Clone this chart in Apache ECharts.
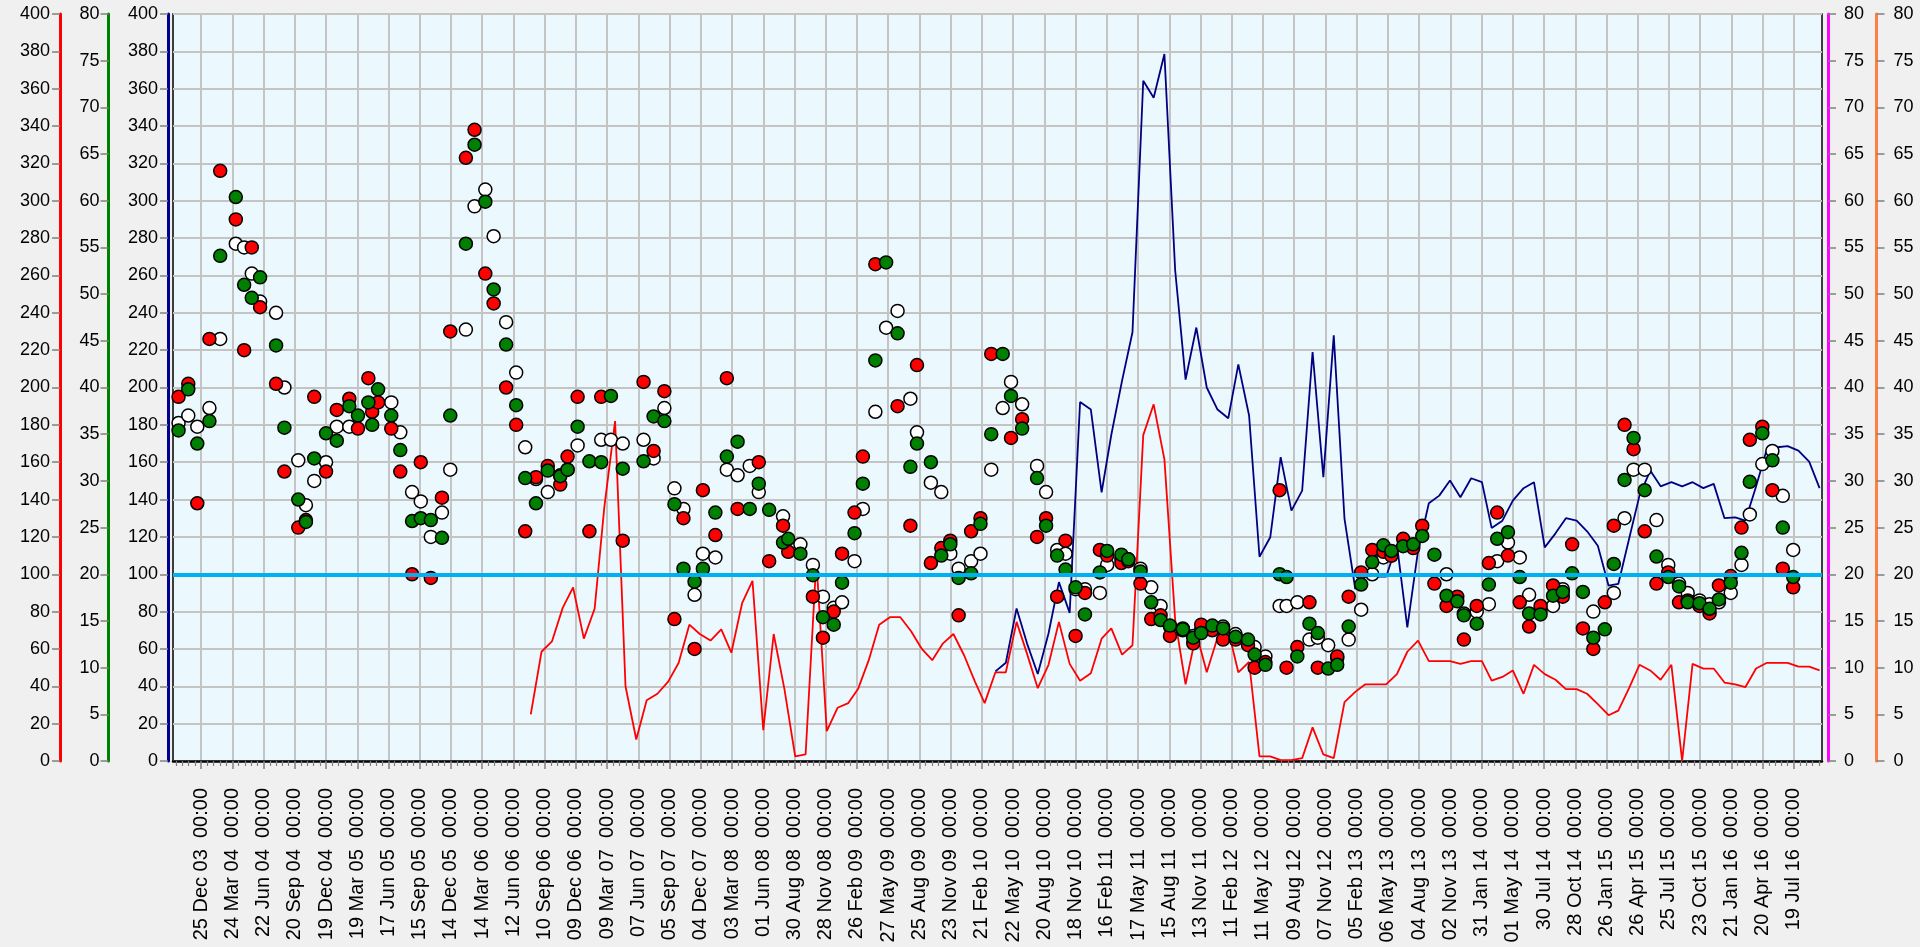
<!DOCTYPE html>
<html>
<head>
<meta charset="utf-8">
<title>chart</title>
<script src="https://cdn.jsdelivr.net/npm/echarts@6/dist/echarts.min.js"></script>
<style>
  html, body { margin: 0; padding: 0; background: #f0f0f0; }
  #chart { width: 1920px; height: 947px; }
</style>
</head>
<body>
<div id="chart"></div>
<script>
// labelled ticks on the time axis (one every 90 days)
const tickLabels = [
  '25 Dec 03', '24 Mar 04', '22 Jun 04', '20 Sep 04', '19 Dec 04', '19 Mar 05', '17 Jun 05', '15 Sep 05',
  '14 Dec 05', '14 Mar 06', '12 Jun 06', '10 Sep 06', '09 Dec 06', '09 Mar 07', '07 Jun 07', '05 Sep 07',
  '04 Dec 07', '03 Mar 08', '01 Jun 08', '30 Aug 08', '28 Nov 08', '26 Feb 09', '27 May 09', '25 Aug 09',
  '23 Nov 09', '21 Feb 10', '22 May 10', '20 Aug 10', '18 Nov 10', '16 Feb 11', '17 May 11', '15 Aug 11',
  '13 Nov 11', '11 Feb 12', '11 May 12', '09 Aug 12', '07 Nov 12', '05 Feb 13', '06 May 13', '04 Aug 13',
  '02 Nov 13', '31 Jan 14', '01 May 14', '30 Jul 14', '28 Oct 14', '26 Jan 15', '26 Apr 15', '25 Jul 15',
  '23 Oct 15', '21 Jan 16', '20 Apr 16', '19 Jul 16'
]
const axisStart = '2003-10-05'
const axisEnd = '2016-10-08'

// sample dates of the circles
const dotDates = [
  '2003-10-21', '2003-11-18', '2003-12-14', '2004-01-18', '2004-02-18', '2004-04-03', '2004-04-27', '2004-05-19', '2004-06-12', '2004-07-28',
  '2004-08-21', '2004-09-30', '2004-10-22', '2004-11-15', '2004-12-19', '2005-01-19', '2005-02-24', '2005-03-21', '2005-04-20', '2005-05-01',
  '2005-05-18', '2005-06-25', '2005-07-21', '2005-08-24', '2005-09-18', '2005-10-17', '2005-11-18', '2005-12-12', '2006-01-26', '2006-02-20',
  '2006-03-23', '2006-04-16', '2006-05-22', '2006-06-20', '2006-07-16', '2006-08-16', '2006-09-19', '2006-10-25', '2006-11-15', '2006-12-14',
  '2007-01-17', '2007-02-20', '2007-03-20', '2007-04-23', '2007-06-22', '2007-07-21', '2007-08-21', '2007-09-19', '2007-10-15', '2007-11-16',
  '2007-12-10', '2008-01-15', '2008-02-17', '2008-03-19', '2008-04-23', '2008-05-19', '2008-06-18', '2008-07-28', '2008-08-12', '2008-09-16',
  '2008-10-22', '2008-11-20', '2008-12-21', '2009-01-14', '2009-02-19', '2009-03-15', '2009-04-20', '2009-05-21', '2009-06-23', '2009-07-30',
  '2009-08-18', '2009-09-27', '2009-10-27', '2009-11-22', '2009-12-16', '2010-01-21', '2010-02-17', '2010-03-20', '2010-04-22', '2010-05-16',
  '2010-06-17', '2010-07-30', '2010-08-25', '2010-09-26', '2010-10-20', '2010-11-18', '2010-12-15', '2011-01-27', '2011-02-17', '2011-03-30',
  '2011-04-19', '2011-05-24', '2011-06-24', '2011-07-21', '2011-08-17', '2011-09-23', '2011-10-23', '2011-11-15', '2011-12-17', '2012-01-17',
  '2012-02-22', '2012-03-29', '2012-04-17', '2012-05-18', '2012-06-28', '2012-07-18', '2012-08-18', '2012-09-22', '2012-10-16', '2012-11-15',
  '2012-12-11', '2013-01-13', '2013-02-18', '2013-03-22', '2013-04-23', '2013-05-16', '2013-06-19', '2013-07-18', '2013-08-13', '2013-09-17',
  '2013-10-22', '2013-11-22', '2013-12-11', '2014-01-17', '2014-02-21', '2014-03-17', '2014-04-17', '2014-05-21', '2014-06-17', '2014-07-20',
  '2014-08-25', '2014-09-22', '2014-10-19', '2014-11-19', '2014-12-19', '2015-01-21', '2015-02-16', '2015-03-19', '2015-04-14', '2015-05-16',
  '2015-06-19', '2015-07-23', '2015-08-23', '2015-09-17', '2015-10-21', '2015-11-19', '2015-12-16', '2016-01-19', '2016-02-19', '2016-03-14',
  '2016-04-19', '2016-05-18', '2016-06-17', '2016-07-17'
]
// red circles, red axis (0-400)
const redDots = [
  195, 202, 138, 226, 316, 290, 220, 275, 243, 202,
  155, 125, 129, 195, 155, 188, 194, 178, 205, 187,
  192, 178, 155, 100, 160, 98, 141, 230, 323, 338,
  261, 245, 200, 180, 123, 152, 158, 148, 163, 195,
  123, 195, null, 118, 203, 166, 198, 76, 130, 60,
  145, 121, 205, 135, null, 160, 107, 126, 112, null,
  88, 66, 80, 111, 133, 163, 266, null, 190, 126,
  212, 106, 114, 118, 78, 123, 130, 218, null, 173,
  183, 120, 130, 88, 118, 67, 90, 113, 110, 106,
  107, 95, 76, 78, 67, 70, 63, 73, 70, 65,
  65, 62, 50, 53, 145, 50, 61, 85, 50, null,
  56, 88, 101, 113, 112, 110, 119, 114, 126, 95,
  83, 88, 65, 83, 106, 133, 110, 85, 72, 83,
  94, 88, 116, 71, 60, 85, 126, 180, 167, 123,
  95, 101, 85, 86, 83, 79, 94, 99, 125, 172,
  179, 145, 103, 93
]
// green circles, green axis (0-80)
const greenDots = [
  35.4, 39.8, 34, 36.4, 54.1, 60.4, 51, 49.6, 51.8, 44.5,
  35.7, 28, 25.6, 32.4, 35.1, 34.3, 38, 37, 38.4, 36,
  39.8, 37, 33.3, 25.7, 26, 25.8, 23.9, 37, 55.4, 66,
  59.9, 50.5, 44.6, 38.1, 30.3, 27.6, 31.1, 30.5, 31.2, 35.8,
  32.1, 32, 39.1, 31.3, 32.1, 36.9, 36.4, 27.5, 20.6, 19.2,
  20.6, 26.6, 32.6, 34.2, 27, 29.7, 26.9, 23.4, 23.8, 22.2,
  19.9, 15.4, 14.6, 19.1, 24.4, 29.7, 42.9, 53.4, 45.8, 31.5,
  34, 32, 22, 23.2, 19.6, 20.1, 25.4, 35, 43.6, 39.1,
  35.6, 30.3, 25.2, 22, 20.5, 18.6, 15.7, 20.2, 22.5, 22.1,
  21.6, 20.3, 17, 15.1, 14.5, 14.1, 13.2, 13.7, 14.5, 14.2,
  13.3, 13, 11.4, 10.3, 20, 19.7, 11.2, 14.7, 13.7, 9.9,
  10.3, 14.4, 18.9, 21.3, 23.1, 22.5, 23, 23.2, 24.1, 22.1,
  17.7, 17.1, 15.6, 14.7, 18.9, 23.8, 24.5, 19.7, 15.8, 15.7,
  17.7, 18.1, 20.1, 18.1, 13.2, 14.1, 21.1, 30.1, 34.6, 29,
  21.9, 19.7, 18.7, 17, 16.9, 16.3, 17.3, 19.1, 22.3, 29.9,
  35.1, 32.2, 25, 19.7
]
// open circles, blue axis (0-400)
const whiteDots = [
  181, 185, 179, 189, 226, 277, 275, 261, 246, 240,
  200, 161, 137, 150, 160, 179, 179, null, null, null,
  null, 192, 176, 144, 139, 120, 133, 156, 231, 297,
  306, 281, 235, 208, 168, 151, 144, 153, 156, 169,
  null, 172, 172, 170, 172, 162, 189, 146, 135, 89,
  111, 109, 156, 153, 158, 144, null, 131, null, 116,
  105, 88, 82, 85, 107, 135, 187, 232, 241, 194,
  176, 149, 144, 111, 103, 107, 111, 156, 189, 203,
  191, 158, 144, 113, 111, 92, 92, 90, 105, 108,
  108, 103, 93, 83, 72, 71, 67, 70, 72, 72,
  68, null, 61, 56, 83, 83, 85, 65, 66, 62,
  55, 65, 81, 100, 109, 110, null, 115, null, null,
  100, null, 79, 80, 84, 107, 117, 109, 89, 81,
  83, 92, null, null, 80, null, 90, 130, 156, 156,
  129, 105, 95, 90, 86, 84, 85, 90, 105, 132,
  159, 166, 142, 113
]

// red line, monthly from Aug 2006, magenta axis (0-80)
const redLineStart = '2006-08'
const redLine = [
  5.0, 11.7, 12.8, 16.4, 18.6,
  13.1, 16.3, 27.2, 36.4, 8.0, 2.3, 6.5, 7.2, 8.5, 10.5, 14.6, 13.6,
  12.9, 14.1, 11.6, 16.9, 19.3, 3.3, 13.6, 7.7, 0.5, 0.7, 21.5, 3.2,
  5.7, 6.2, 7.7, 10.8, 14.6, 15.4, 15.4, 13.9, 12.0, 10.8, 12.6, 13.6,
  11.3, 8.5, 6.2, 9.5, 9.5, 14.9, 11.5, 7.8, 10.3, 14.9, 10.4, 8.6,
  9.4, 13.1, 14.2, 11.4, 12.4, 34.9, 38.2, 32.3, 15.1, 8.2, 13.7, 9.5,
  13.2, 14.0, 9.5, 10.6, 0.5, 0.5, 0.1, 0.1, 0.3, 3.6, 0.7, 0.3,
  6.3, 7.4, 8.2, 8.2, 8.2, 9.3, 11.7, 12.9, 10.7, 10.7, 10.7, 10.4,
  10.7, 10.7, 8.6, 9.0, 9.7, 7.2, 10.3, 9.3, 8.7, 7.7, 7.7, 7.2,
  6.1, 4.9, 5.4, 7.8, 10.3, 9.7, 8.7, 10.3, 0, 10.4, 9.9, 9.9,
  8.4, 8.2, 7.9, 9.9, 10.5, 10.5, 10.5, 10.1, 10.1, 9.7
]
// navy line, monthly from Apr 2010, blue axis (0-400)
const navyLineStart = '2010-04'
const navyLine = [
  48, 52.6, 81.7, 63, 46.6, 68.3, 95.8, 79.3, 192.2,
  188.2, 143.9, 174.7, 203.7, 229.6, 364.3, 355.2, 378.6, 262.8, 204.2, 232.1, 200,
  188.2, 183.5, 212.4, 185, 109.4, 119.8, 162.7, 134.1, 144.8, 219, 152, 227.9,
  129.6, 92.1, 101, 98.7, 98.7, 116, 71.5, 112.6, 138, 142.1, 150.2, 141.2,
  151.4, 149.3, 124.8, 128.7, 139.4, 146.1, 149.3, 114.4, 121.9, 130, 128.7, 123,
  115.3, 93.9, 94.8, 118.9, 142.1, 155.5, 147.1, 149.3, 147.1, 149.3, 146.1, 148.4,
  130, 130.5, 128.7, 147, 166.2, 168, 168.6, 166.2, 160.3, 146.1
]
// horizontal reference level, orange axis (0-80)
const thresholdLevel = 20

const MONTHS = ['Jan', 'Feb', 'Mar', 'Apr', 'May', 'Jun', 'Jul', 'Aug', 'Sep', 'Oct', 'Nov', 'Dec']
const DAY = 86400000

function toDay (s) {
  const p = s.split('-')
  return Date.UTC(+p[0], +p[1] - 1, +(p[2] || 1)) / DAY
}
function labelDay (s) {
  const p = s.split(' ')
  return Date.UTC(2000 + +p[2], MONTHS.indexOf(p[1]), +p[0]) / DAY
}
function monthly (start, values) {
  const p = start.split('-')
  return values.map((v, i) => [Date.UTC(+p[0], +p[1] - 1 + i, 1) / DAY, v])
}
function points (values) {
  const out = []
  values.forEach((v, i) => { if (v != null) out.push([toDay(dotDates[i]), v]) })
  return out
}

const xMin = toDay(axisStart)
const xMax = toDay(axisEnd)
const majorTicks = tickLabels.map(labelDay)
const tickText = {}
majorTicks.forEach((d, i) => { tickText[d] = tickLabels[i] + '  00:00' })
const minorTicks = []
for (let d = majorTicks[0] - 72; d <= xMax; d += 18) {
  if (d >= xMin && (d - majorTicks[0]) % 90 !== 0) minorTicks.push(d)
}

// grid lines: base axis steps 9 days from xMin, only every 10th step is drawn
const gridColor = '#c4c4c4'
const phase = ((majorTicks[0] - xMin) / 9) % 10
const splitColors = []
for (let i = 0; i < 10; i++) splitColors.push(i === phase ? gridColor : 'rgba(0,0,0,0)')

const labelFont = 'Liberation Sans, Arial, sans-serif'

function yAxisOf (position, offset, max, interval, color, margin) {
  return {
    type: 'value',
    position: position,
    offset: offset,
    min: 0,
    max: max,
    interval: interval,
    axisLine: { show: true, onZero: false, lineStyle: { color: color, width: 3 } },
    axisTick: { show: true, length: 8, lineStyle: { color: '#808080', width: 1.5 } },
    axisLabel: {
      color: '#000', fontSize: 18, fontFamily: labelFont, margin: margin,
      showMinLabel: true, showMaxLabel: true, hideOverlap: false
    },
    splitLine: { show: false }
  }
}

function xAxisOf (extra) {
  return Object.assign({
    type: 'value',
    min: xMin,
    max: xMax,
    position: 'bottom',
    axisLine: { show: false, onZero: false },
    axisTick: { show: false },
    axisLabel: { show: false },
    splitLine: { show: false }
  }, extra)
}

const blueAxis = yAxisOf('left', 5, 400, 20, '#000090', 10)
blueAxis.splitLine = { show: true, lineStyle: { color: gridColor, width: 2 } }

const chart = echarts.init(document.getElementById('chart'))
chart.setOption({
  animation: false,
  backgroundColor: '#f0f0f0',
  grid: {
    left: 173,
    right: 98,
    top: 14,
    bottom: 186,
    show: true,
    backgroundColor: '#ebf8fe',
    borderColor: '#000',
    borderWidth: 1.5,
    containLabel: false,
    outerBoundsMode: 'none'
  },
  xAxis: [
    xAxisOf({
      interval: 9,
      axisLine: { show: true, onZero: false, lineStyle: { color: '#000', width: 2.5 } },
      splitLine: { show: true, lineStyle: { color: splitColors, width: 2 } }
    }),
    xAxisOf({
      axisTick: { show: true, customValues: majorTicks, length: 8, lineStyle: { color: '#808080', width: 1.5 } },
      axisLabel: {
        show: true,
        customValues: majorTicks,
        rotate: 90,
        margin: 27,
        color: '#000',
        fontSize: 20,
        fontFamily: labelFont,
        hideOverlap: false,
        formatter: function (v) { return tickText[v] || '' }
      }
    }),
    xAxisOf({
      axisTick: { show: true, customValues: minorTicks, length: 5, lineStyle: { color: '#808080', width: 1.2 } }
    })
  ],
  yAxis: [
    yAxisOf('left', 113, 400, 20, '#ff0000', 10),
    yAxisOf('left', 64.5, 80, 5, '#008000', 9),
    blueAxis,
    yAxisOf('right', 6, 80, 5, '#ff00ff', 16),
    yAxisOf('right', 54.5, 80, 5, '#ff8040', 17)
  ],
  series: [
    {
      type: 'line',
      xAxisIndex: 0,
      yAxisIndex: 3,
      data: monthly(redLineStart, redLine),
      symbol: 'none',
      showSymbol: false,
      lineStyle: { color: '#ff0000', width: 1.8 },
      itemStyle: { color: '#ff0000' },
      z: 2,
      markLine: {
        silent: true,
        symbol: 'none',
        label: { show: false },
        lineStyle: { color: '#00b0f0', width: 4, type: 'solid' },
        data: [{ yAxis: thresholdLevel }]
      }
    },
    {
      type: 'line',
      xAxisIndex: 0,
      yAxisIndex: 2,
      data: monthly(navyLineStart, navyLine),
      symbol: 'none',
      showSymbol: false,
      lineStyle: { color: '#000080', width: 1.8 },
      itemStyle: { color: '#000080' },
      z: 2
    },
    {
      type: 'scatter',
      xAxisIndex: 0,
      yAxisIndex: 2,
      data: points(whiteDots),
      symbolSize: 13,
      itemStyle: { color: '#ffffff', borderColor: '#000', borderWidth: 1.5, opacity: 1 },
      z: 3
    },
    {
      type: 'scatter',
      xAxisIndex: 0,
      yAxisIndex: 0,
      data: points(redDots),
      symbolSize: 13,
      itemStyle: { color: '#ff0000', borderColor: '#000', borderWidth: 1.5, opacity: 1 },
      z: 3
    },
    {
      type: 'scatter',
      xAxisIndex: 0,
      yAxisIndex: 1,
      data: points(greenDots),
      symbolSize: 13,
      itemStyle: { color: '#008000', borderColor: '#000', borderWidth: 1.5, opacity: 1 },
      z: 3
    }
  ]
})
</script>
</body>
</html>
